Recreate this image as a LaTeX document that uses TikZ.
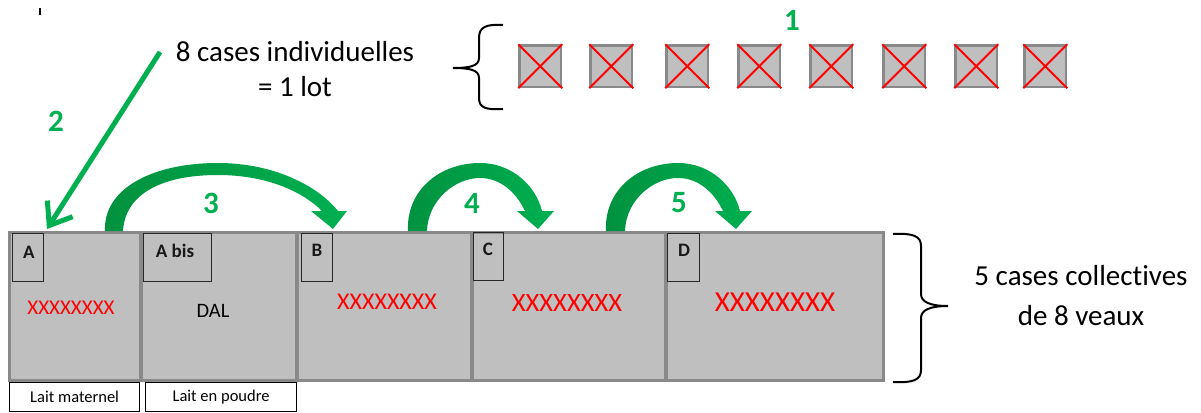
\documentclass[tikz,border=0pt]{standalone}
\usepackage{fontspec}
\setmainfont{Carlito}[Ligatures=NoCommon]
\usetikzlibrary{arrows.meta}
\definecolor{gbright}{HTML}{00B050}
\definecolor{gdark}{HTML}{00913F}
\definecolor{penfill}{HTML}{BFBFBF}
\definecolor{penedge}{HTML}{898989}
\definecolor{xred}{HTML}{FF0000}
\begin{document}
\begin{tikzpicture}[x=1pt,y=-1pt,
  pen/.style={draw=penedge, line width=3.5pt, fill=penfill, inner sep=0pt, outer sep=0pt, minimum height=148pt, anchor=north west},
  tag/.style={draw=black!85, line width=1.3pt, inner sep=0pt, minimum height=48pt, anchor=north west},
  tagtxt/.style={font=\fontsize{19}{22}\selectfont\bfseries, text=black!90},
  cell/.style={draw=penedge, line width=2.5pt, fill=penfill, minimum width=41.5pt, minimum height=41.5pt, inner sep=0pt, anchor=north west},
  xx/.style={text=xred, inner sep=0pt},
  num/.style={text=gbright, font=\fontsize{31}{36}\selectfont\bfseries, inner sep=0pt},
  big/.style={align=center, inner sep=0pt},
  milk/.style={draw=black, line width=1.2pt, inner sep=0pt, minimum height=29pt, anchor=north west, font=\fontsize{16.5}{20}\selectfont},
  bracestyle/.style={line width=2pt, black},
  cross/.style={xred, line width=1.8pt},
  greenbend/.style={left color=gdark, middle color=gbright, right color=gbright, draw=none}]

\useasboundingbox (0,0) rectangle (1201,412);

% stray tick
\draw[line width=1.5pt] (40,8) -- (40,15);

% collective pens
\node[pen, minimum width=131.5pt] (penA) at (9.5,232.5) {};
\node[pen, minimum width=156pt] (penAbis) at (141,232.5) {};
\node[pen, minimum width=175pt] (penB) at (297,232.5) {};
\node[pen, minimum width=194pt] (penC) at (472,232.5) {};
\node[pen, minimum width=217.5pt] (penD) at (666,232.5) {};

% tags
\node[tag, minimum width=31pt] (tagA) at (12,233) {};
\node[tagtxt] (tA) at (29,252) {A};
\node[tag, minimum width=68pt] (tagAbis) at (143,233) {};
\node[tagtxt] (tAbis) at (175,251) {A bis};
\node[tag, minimum width=31pt] (tagB) at (301,233) {};
\node[tagtxt] (tB) at (317,250) {B};
\node[tag, minimum width=30pt] (tagC) at (473,232) {};
\node[tagtxt] (tC) at (488,249) {C};
\node[tag, minimum width=32pt] (tagD) at (667,233) {};
\node[tagtxt] (tD) at (684,250) {D};

% contents
\node[xx, font=\fontsize{21}{24}\selectfont] (xA) at (71,308) {XXXXXXXX};
\node[font=\fontsize{20.5}{24}\selectfont, inner sep=0pt] (dal) at (213,311) {DAL};
\node[xx, font=\fontsize{24}{28}\selectfont] (xB) at (387,302) {XXXXXXXX};
\node[xx, font=\fontsize{26.5}{30}\selectfont] (xC) at (567,303) {XXXXXXXX};
\node[xx, font=\fontsize{29}{33}\selectfont] (xD) at (775,302) {XXXXXXXX};

% milk boxes
\node[milk, minimum width=130pt] (milkA) at (9,382) {Lait maternel};
\node[milk, minimum width=151pt] (milkB) at (145,382) {Lait en poudre};

% individual cells
\foreach \x [count=\i] in {517,588,664,736,808,881,953,1022} {
  \node[cell] (c\i) at (\x+1.25,44.25) {};
  \draw[cross] (c\i.north west) -- (c\i.south east) (c\i.north east) -- (c\i.south west);
}

% braces
\draw[bracestyle] (503,25) .. controls (486,24) and (479,27) .. (479,38) -- (479,58)
  .. controls (479,66) and (470,68) .. (453,68) .. controls (470,68) and (479,70) .. (479,78)
  -- (479,98) .. controls (479,108) and (486,110) .. (503,109);
\draw[bracestyle] (893,234) .. controls (913,233) and (921,236) .. (921,246) -- (921,294)
  .. controls (921,302) and (930,306) .. (948,306) .. controls (930,306) and (921,310) .. (921,318)
  -- (921,370) .. controls (921,380) and (913,383) .. (893,382);

% texts
\node[big, font=\fontsize{29}{35}\selectfont] (lot) at (295,69) {8 cases individuelles\\= 1 lot};
\node[big, font=\fontsize{29}{40}\selectfont] (coll) at (1081,296) {5 cases collectives\\de 8 veaux};

% numbers
\node[num] (n1) at (792,20) {1};
\node[num] (n2) at (56,121) {2};
\node[num] (n3) at (211,203) {3};
\node[num] (n4) at (472,203) {4};
\node[num] (n5) at (679,203) {5};

% arrow 2
\coordinate (s2) at (160,52);
\coordinate (t2) at (47,229);
\draw[gbright, line width=5pt, -{Straight Barb[length=20pt,width=30pt]}] (s2) -- (t2);

% curved arrows
\shade[greenbend] (105,231) .. controls (103,190) and (150,163) .. (218,163)
  .. controls (274,163) and (318,186) .. (338,211) -- (347,211) -- (333,229) -- (311,211) -- (322,211)
  .. controls (300,189) and (262,175) .. (218,175) .. controls (160,175) and (125,195) .. (123,231) -- cycle;
\shade[greenbend] (408,231) .. controls (406,190) and (440,163) .. (480,163)
  .. controls (512,163) and (536,186) .. (542,211) -- (554,211) -- (538,229) -- (517,211) -- (525,211)
  .. controls (516,192) and (500,178) .. (480,178) .. controls (455,178) and (428,200) .. (427,231) -- cycle;
\begin{scope}[xshift=198pt]
\shade[greenbend] (408,231) .. controls (406,190) and (440,163) .. (480,163)
  .. controls (512,163) and (536,186) .. (542,211) -- (554,211) -- (538,229) -- (517,211) -- (525,211)
  .. controls (516,192) and (500,178) .. (480,178) .. controls (455,178) and (428,200) .. (427,231) -- cycle;
\end{scope}
\end{tikzpicture}
\end{document}
